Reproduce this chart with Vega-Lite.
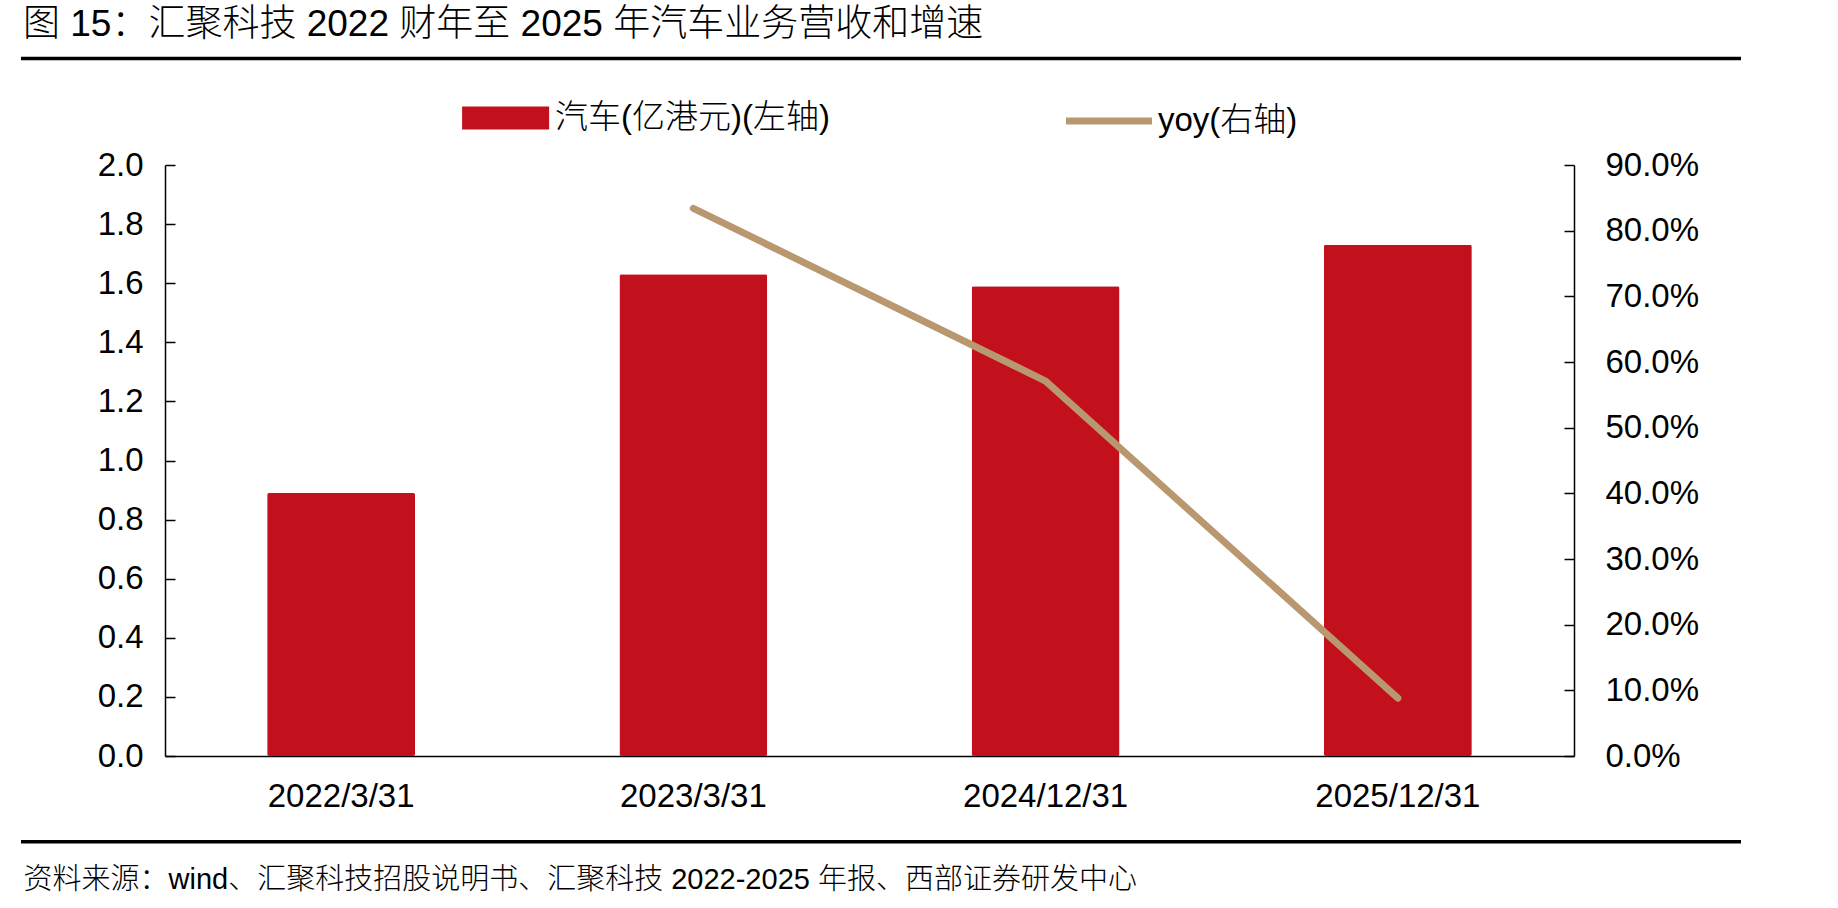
{
  "$schema": "https://vega.github.io/schema/vega-lite/v6.json",
  "width": 1409,
  "height": 591,
  "autosize": {"type": "none"},
  "padding": {"left": 165, "top": 165, "right": 264, "bottom": 152},
  "background": "white",
  "config": {"view": {"stroke": null}},
  "title": {
    "text": "图 15：汇聚科技 2022 财年至 2025 年汽车业务营收和增速",
    "anchor": "start",
    "frame": "group",
    "dx": -142,
    "offset": 13,
    "font": "Liberation Sans, Noto Sans CJK SC",
    "fontSize": 37,
    "fontWeight": 300,
    "color": "black"
  },
  "data": {
    "values": [
      {"date": "2022/3/31", "car": 0.89, "yoy": null},
      {"date": "2023/3/31", "car": 1.63, "yoy": 0.834},
      {"date": "2024/12/31", "car": 1.59, "yoy": 0.571},
      {"date": "2025/12/31", "car": 1.73, "yoy": 0.088}
    ]
  },
  "encoding": {
    "x": {
      "field": "date",
      "type": "ordinal",
      "sort": null,
      "scale": {"paddingInner": 0.58, "paddingOuter": 0.29},
      "axis": {
        "title": "资料来源：wind、汇聚科技招股说明书、汇聚科技 2022-2025 年报、西部证券研发中心",
        "labelAngle": 0,
        "ticks": false,
        "domainColor": "black",
        "domainWidth": 1.5,
        "labelFontSize": 33,
        "labelFont": "Liberation Sans",
        "labelColor": "black",
        "labelPadding": 24,
        "titleAnchor": "start",
        "titleAlign": "left",
        "titleX": -142,
        "titleY": 123,
        "titleBaseline": "middle",
        "titleFont": "Liberation Sans, Noto Sans CJK SC",
        "titleFontSize": 29,
        "titleFontWeight": 300,
        "titleColor": "black",
        "titleLimit": 0
      }
    }
  },
  "layer": [
    {
      "layer": [
        {
          "mark": {"type": "bar", "cornerRadius": 2},
          "encoding": {
            "y": {
              "field": "car",
              "type": "quantitative",
              "scale": {"domain": [0, 2]},
              "title": null,
              "axis": {
                "values": [0, 0.2, 0.4, 0.6, 0.8, 1.0, 1.2, 1.4, 1.6, 1.8, 2.0],
                "format": ".1f",
                "title": null,
                "grid": false,
                "domainColor": "black",
                "domainWidth": 1.5,
                "tickColor": "black",
                "tickWidth": 1.5,
                "tickSize": -10,
                "labelFontSize": 33,
                "labelFont": "Liberation Sans",
                "labelColor": "black",
                "labelPadding": 32
              }
            },
            "fill": {
              "datum": "汽车(亿港元)(左轴)",
              "type": "nominal",
              "scale": {"range": ["#C2101C"]},
              "legend": {
                "orient": "none",
                "legendX": 297,
                "legendY": -70,
                "title": null,
                "symbolType": "M-1,-0.5H2.8V0.5H-1Z",
                "symbolSize": 2097,
                "symbolStrokeWidth": 0,
                "symbolOpacity": 1,
                "labelOffset": 47,
                "labelFontSize": 33,
                "labelFont": "Liberation Sans, Noto Sans CJK SC",
                "labelFontWeight": 300,
                "labelColor": "black",
                "labelLimit": 0,
                "padding": 0
              }
            }
          }
        },
        {
          "data": {"values": [{"sep": 2.36}, {"sep": -0.29}]},
          "mark": {"type": "rule", "stroke": "black", "strokeWidth": 3.5},
          "encoding": {
            "y": {"field": "sep", "type": "quantitative", "scale": {"domain": [0, 2]}, "title": null},
            "x": {"value": -144},
            "x2": {"value": 1576}
          }
        }
      ]
    },
    {
      "transform": [{"filter": "isValid(datum.yoy)"}],
      "mark": {"type": "line", "strokeWidth": 7, "strokeCap": "round", "strokeJoin": "round"},
      "encoding": {
        "y": {
          "field": "yoy",
          "type": "quantitative",
          "scale": {"domain": [0, 0.9]},
          "axis": {
            "orient": "right",
            "values": [0, 0.1, 0.2, 0.3, 0.4, 0.5, 0.6, 0.7, 0.8, 0.9],
            "format": ".1%",
            "title": null,
            "grid": false,
            "domainColor": "black",
            "domainWidth": 1.5,
            "tickColor": "black",
            "tickWidth": 1.5,
            "tickSize": -10,
            "labelFontSize": 33,
            "labelFont": "Liberation Sans",
            "labelColor": "black",
            "labelPadding": 41
          }
        },
        "stroke": {
          "datum": "yoy(右轴)",
          "type": "nominal",
          "scale": {"range": ["#B99870"]},
          "legend": {
            "orient": "none",
            "legendX": 897,
            "legendY": -91,
            "title": null,
            "symbolType": "stroke",
            "symbolSize": 7400,
            "symbolStrokeWidth": 7,
            "labelOffset": 2,
            "labelFontSize": 33,
            "labelFont": "Liberation Sans, Noto Sans CJK SC",
            "labelFontWeight": 300,
            "labelColor": "black",
            "labelLimit": 0,
            "padding": 0
          }
        }
      }
    }
  ],
  "resolve": {"scale": {"y": "independent", "fill": "independent", "stroke": "independent"}}
}
